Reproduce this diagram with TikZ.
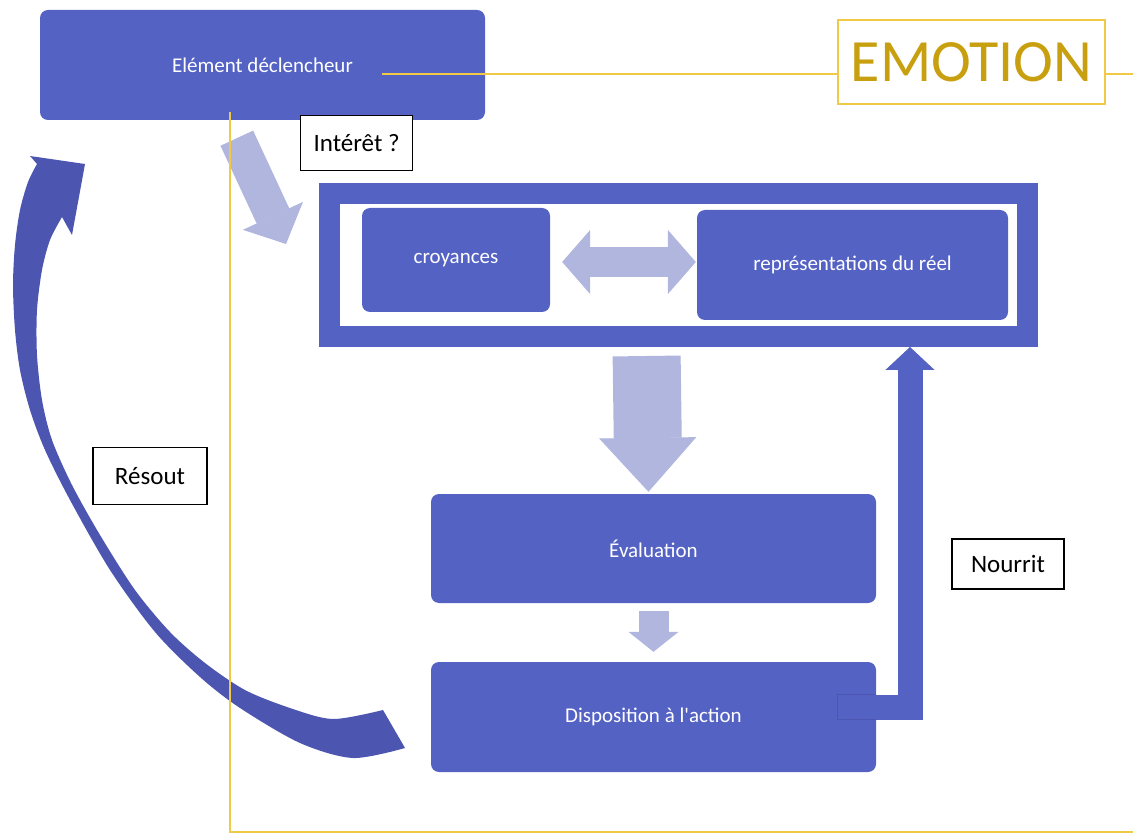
\documentclass[tikz,border=0pt]{standalone}
\usepackage{fontspec}
\setmainfont{Carlito}
\usepackage{tikz}
\usetikzlibrary{
  arrows.meta,
  calc,
  positioning,
}

\definecolor{boxblue}{RGB}{84,98,196}
\definecolor{paleblue}{RGB}{176,182,222}
\definecolor{deepblue}{RGB}{76,86,176}
\definecolor{gold}{RGB}{240,202,70}
\definecolor{darkgold}{RGB}{200,160,15}

\begin{document}
\begin{tikzpicture}[x=1pt, y=-1pt,
  block/.style={fill=boxblue, rounded corners=8pt, text=white, inner sep=0pt, font=\fontsize{21}{25}\selectfont},
  note/.style={draw=black, line width=1.2pt, fill=white, inner sep=0pt, font=\fontsize{25}{30}\selectfont},
  fat/.style={draw=paleblue, line width=#1},
  goldline/.style={draw=gold, line width=1.5pt}]
\useasboundingbox (0,0) rectangle (1133,834);

\node[block, minimum width=445, minimum height=110] (trigger) at (262.5,65) {Elément déclencheur};
\node[note, minimum width=112, minimum height=55, anchor=north west] (interest) at (300,115) {Intérêt ?};

\node[draw=boxblue, line width=21pt, minimum width=698, minimum height=143] (frame) at (678.5,265) {};
\node[block, minimum width=188, minimum height=104] (beliefs) at (456,260) {croyances};
\node[block, minimum width=311, minimum height=110] (reality) at (852.5,265) {représentations du réel};

\node[block, minimum width=445, minimum height=109] (evaluation) at (653.5,548.5) {Évaluation};
\node[block, minimum width=445, minimum height=110] (disposition) at (653.5,717) {Disposition à l\textquotesingle action};

\node[note, minimum width=114, minimum height=57] (resolves) at (150,476) {Résout};
\node[note, minimum width=112, minimum height=50] (feeds) at (1008,564) {Nourrit};

\node[draw=gold, line width=1.5pt, minimum width=267, minimum height=84, text=darkgold, inner sep=0pt,
  font=\fontsize{60}{60}\selectfont] (emotion) at (971.5,62) {EMOTION};

% pale block arrows
\draw[fat=36pt, -{Triangle[width=66pt, length=31pt, line width=1pt]}]
  ([shift={(197,18)}]trigger.south west) -- ([shift={(-33,61)}]frame.north west);
\draw[fat=30pt, {Triangle[width=64pt, length=28pt, line width=1pt]}-{Triangle[width=64pt, length=28pt, line width=1pt]},
  shorten <=12pt, shorten >=1pt] ([shift={(0,2)}]beliefs.east) -- ([shift={(0,-3)}]reality.west);
\draw[fat=68pt, -{Triangle[width=97pt, length=54pt, line width=1pt]}, shorten <=9pt, shorten >=2pt]
  ([shift={(-7,0)}]evaluation.north |- frame.south) -- ([shift={(-5,0)}]evaluation.north);
\draw[fat=30pt, -{Triangle[width=50pt, length=20pt, line width=1pt]}, shorten <=8pt, shorten >=10pt]
  (evaluation.south) -- (disposition.north);

% feedback back into the frame
\draw[draw=boxblue, line width=25pt, -{Triangle[width=49pt, length=23pt, line width=1pt]}]
  ([shift={(-39,-10)}]disposition.east) -| ([shift={(-128,0)}]frame.south east);
\draw[deepblue, line width=0.8pt]
  ([shift={(0,-22.5)}]disposition.east) -- ([shift={(-39,-22.5)}]disposition.east)
  -- ([shift={(-39,2.5)}]disposition.east) -- ([shift={(0,2.5)}]disposition.east);

% curved arrow back to the trigger
\fill[deepblue]
  plot[smooth] coordinates {(37,164) (28,182) (20,210) (15,245) (13,285) (15,330) (20,370) (30,410)
    (45,450) (70,500) (110,570) (155,632) (200,677) (240,708) (300,743) (353,758) (405,748)}
  -- plot[smooth] coordinates {(383,710) (333,719) (290,708) (245,690) (205,663) (170,632) (135,590)
    (100,535) (72,485) (52,440) (42,400) (37,355) (37,310) (42,270) (50,240) (62,217)}
  -- (72,235) -- (85,164) -- (30,156) -- cycle;

% gold guide lines
\coordinate (hook) at (382,74);
\coordinate (drop) at (230,112);
\coordinate (corner) at (230,832);
\draw[goldline] (hook) -- (hook -| emotion.west);
\draw[goldline] (hook -| emotion.east) -- (1133,74);
\draw[goldline] (drop) -- (corner) -- (1133,832);
\end{tikzpicture}
\end{document}
